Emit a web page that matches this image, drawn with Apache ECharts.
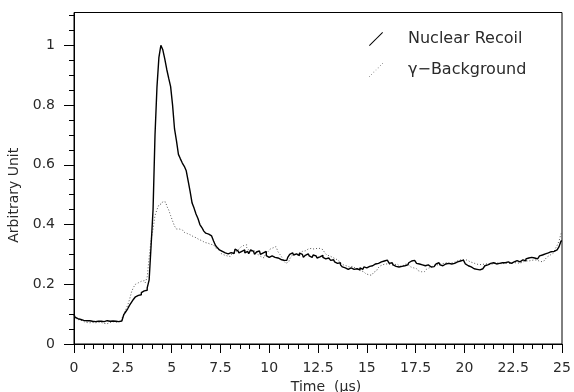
<!DOCTYPE html>
<html>
<head>
<meta charset="utf-8">
<script src="https://cdn.jsdelivr.net/npm/echarts@6/dist/echarts.min.js"></script>
<style>html,body{margin:0;padding:0;background:#fff}#c{width:574px;height:392px}</style>
</head>
<body>
<div id="c"></div>
<script>
// Sampling grid (μs)
const timeStart = 0;
const timeStep = 0.1;

// Nuclear Recoil (solid)
const nuclearRecoil = [
0.100,0.090,0.085,0.082,0.080,0.079,0.078,0.077,0.078,0.076,
0.077,0.075,0.076,0.078,0.076,0.075,0.077,0.078,0.076,0.075,
0.077,0.076,0.074,0.075,0.077,0.080,0.098,0.108,0.118,0.130,
0.140,0.150,0.158,0.163,0.165,0.172,0.178,0.180,0.188,0.215,
0.330,0.450,0.700,0.860,0.960,1.000,0.985,0.955,0.920,0.890,
0.862,0.800,0.720,0.680,0.635,0.620,0.606,0.595,0.580,0.545,
0.510,0.472,0.455,0.435,0.420,0.400,0.390,0.378,0.371,0.368,
0.362,0.356,0.345,0.330,0.322,0.315,0.310,0.305,0.310,0.302,
0.306,0.310,0.303,0.318,0.312,0.305,0.310,0.315,0.305,0.310,
0.302,0.315,0.310,0.300,0.308,0.312,0.300,0.305,0.310,0.296,
0.290,0.295,0.300,0.290,0.288,0.285,0.283,0.280,0.284,0.280,
0.290,0.300,0.305,0.298,0.302,0.296,0.304,0.300,0.290,0.297,
0.302,0.295,0.290,0.298,0.295,0.288,0.292,0.297,0.290,0.285,
0.288,0.283,0.280,0.282,0.275,0.270,0.272,0.265,0.258,0.255,
0.250,0.248,0.255,0.250,0.245,0.252,0.248,0.255,0.250,0.258,
0.255,0.260,0.256,0.262,0.268,0.265,0.270,0.275,0.272,0.278,
0.281,0.275,0.270,0.272,0.265,0.260,0.258,0.255,0.260,0.262,
0.258,0.265,0.272,0.278,0.280,0.276,0.270,0.268,0.265,0.268,
0.262,0.265,0.260,0.258,0.259,0.262,0.268,0.272,0.265,0.262,
0.268,0.265,0.270,0.268,0.265,0.270,0.275,0.272,0.278,0.281,
0.275,0.268,0.262,0.258,0.255,0.252,0.250,0.248,0.248,0.252,
0.258,0.262,0.265,0.270,0.268,0.272,0.268,0.265,0.270,0.272,
0.268,0.272,0.275,0.272,0.270,0.275,0.278,0.279,0.275,0.280,
0.282,0.278,0.285,0.288,0.290,0.292,0.288,0.285,0.290,0.295,
0.298,0.302,0.300,0.305,0.309,0.305,0.310,0.315,0.320,0.326,
0.345
];

// γ-Background (dotted)
const gammaBackground = [
0.095,0.088,0.082,0.080,0.078,0.075,0.072,0.073,0.071,0.072,
0.070,0.071,0.073,0.070,0.072,0.069,0.070,0.068,0.072,0.074,
0.075,0.073,0.076,0.075,0.078,0.085,0.100,0.115,0.130,0.150,
0.175,0.190,0.200,0.205,0.210,0.208,0.212,0.205,0.225,0.290,
0.350,0.385,0.430,0.450,0.466,0.470,0.477,0.475,0.462,0.449,
0.430,0.412,0.395,0.385,0.385,0.382,0.378,0.374,0.370,0.366,
0.362,0.360,0.356,0.352,0.350,0.346,0.343,0.340,0.338,0.335,
0.334,0.332,0.328,0.322,0.318,0.312,0.302,0.298,0.295,0.293,
0.293,0.300,0.305,0.310,0.315,0.318,0.325,0.330,0.332,0.322,
0.315,0.310,0.312,0.309,0.305,0.298,0.292,0.288,0.295,0.302,
0.310,0.318,0.322,0.326,0.320,0.309,0.300,0.290,0.278,0.270,
0.275,0.285,0.295,0.300,0.298,0.302,0.305,0.310,0.312,0.315,
0.318,0.320,0.322,0.318,0.320,0.324,0.320,0.316,0.310,0.305,
0.298,0.295,0.290,0.290,0.285,0.280,0.275,0.270,0.265,0.262,
0.260,0.258,0.260,0.260,0.255,0.250,0.248,0.245,0.242,0.238,
0.235,0.232,0.230,0.235,0.240,0.245,0.252,0.260,0.265,0.268,
0.270,0.268,0.265,0.262,0.265,0.268,0.262,0.260,0.262,0.265,
0.268,0.265,0.262,0.258,0.255,0.252,0.250,0.245,0.242,0.242,
0.245,0.250,0.255,0.260,0.262,0.265,0.265,0.265,0.268,0.270,
0.270,0.272,0.270,0.268,0.272,0.275,0.278,0.280,0.282,0.280,
0.282,0.281,0.278,0.275,0.272,0.270,0.268,0.266,0.265,0.266,
0.268,0.270,0.268,0.265,0.268,0.270,0.272,0.270,0.270,0.268,
0.270,0.272,0.270,0.268,0.270,0.272,0.270,0.272,0.270,0.272,
0.275,0.278,0.276,0.278,0.280,0.280,0.282,0.280,0.278,0.276,
0.276,0.280,0.285,0.292,0.298,0.304,0.310,0.318,0.330,0.345,
0.370
];

const seriesNames = ['Nuclear Recoil', 'γ\u2212Background'];
const yMajorTicks = [0, 0.2, 0.4, 0.6, 0.8, 1];
const yMinorTicks = [0.05,0.1,0.15,0.25,0.3,0.35,0.45,0.5,0.55,0.65,0.7,0.75,0.85,0.9,0.95,1.05,1.1];
const xTickLabels = [0, 2.5, 5, 7.5, 10, 12.5, 15, 17.5, 20, 22.5, 25];

function toPairs(vals) {
  return vals.map((v, i) => [+(timeStart + i * timeStep).toFixed(2), v]);
}

const font = '"DejaVu Sans", sans-serif';
const txt = '#2a2a2a';
const chart = echarts.init(document.getElementById('c'), null, {renderer: 'canvas'});

chart.setOption({
  animation: false,
  backgroundColor: '#fff',
  grid: {left: 74, right: 12, top: 12.5, bottom: 48, containLabel: false, outerBoundsMode: 'none',
    show: true, borderColor: '#000', borderWidth: 1, backgroundColor: 'transparent'},
  legend: {
    orient: 'vertical', left: 364, top: 26, itemGap: 15, itemWidth: 22, itemHeight: 14,
    textStyle: {fontFamily: font, fontSize: 16, color: txt, padding: [0, 0, 0, 16]},
    data: [
      {name: seriesNames[0], icon: 'path://M0,20 L20,0 L21,1 L1,21 Z', itemStyle: {color: '#000'}},
      {name: seriesNames[1], icon: 'path://M0,19h1v1h-1z M3,16h1v1h-1z M6,13h1v1h-1z M9,10h1v1h-1z M12,7h1v1h-1z M15,4h1v1h-1z M18,1h1v1h-1z', itemStyle: {color: '#555'}}
    ]
  },
  xAxis: {
    type: 'value', min: 0, max: 25, interval: 2.5,
    name: 'Time  (\u03bcs)', nameLocation: 'middle', nameGap: 34,
    nameTextStyle: {fontFamily: font, fontSize: 14, color: txt, padding: [0, 0, 0, 16]},
    axisLine: {lineStyle: {color: '#000', width: 1}},
    axisTick: {inside: false, length: 9, lineStyle: {color: '#000'}},
    minorTick: {show: true, splitNumber: 5, length: 5, lineStyle: {color: '#000'}},
    splitLine: {show: false},
    axisLabel: {fontFamily: font, fontSize: 14, color: txt, margin: 17,
      formatter: v => xTickLabels.includes(v) ? String(v) : ''}
  },
  yAxis: [{
    type: 'value', min: 0, max: 1.11,
    name: 'Arbitrary Unit', nameLocation: 'middle', nameGap: 47,
    nameTextStyle: {fontFamily: font, fontSize: 14, color: txt, padding: [0, 34, 0, 0]},
    axisLine: {lineStyle: {color: '#000', width: 1}},
    axisTick: {length: 10, lineStyle: {color: '#000'}, customValues: yMajorTicks},
    splitLine: {show: false},
    axisLabel: {fontFamily: font, fontSize: 14, color: txt, margin: 19, customValues: yMajorTicks,
      formatter: v => String(+v.toFixed(2))}
  }, {
    type: 'value', min: 0, max: 1.11, position: 'left',
    axisLine: {show: false},
    axisTick: {show: true, length: 5, lineStyle: {color: '#000'}, customValues: yMinorTicks},
    axisLabel: {show: false},
    splitLine: {show: false}
  }],
  series: [{
    name: seriesNames[0], type: 'line', data: toPairs(nuclearRecoil), yAxisIndex: 0,
    showSymbol: false, symbol: 'none', step: 'middle',
    lineStyle: {color: '#000', width: 1.4}, itemStyle: {color: '#000'}, z: 3
  }, {
    name: seriesNames[1], type: 'line', data: toPairs(gammaBackground), yAxisIndex: 0,
    showSymbol: false, symbol: 'none', step: 'middle',
    lineStyle: {color: '#555', width: 1, type: [1, 2]}, itemStyle: {color: '#555'}, z: 2
  }]
});
</script>
</body>
</html>
